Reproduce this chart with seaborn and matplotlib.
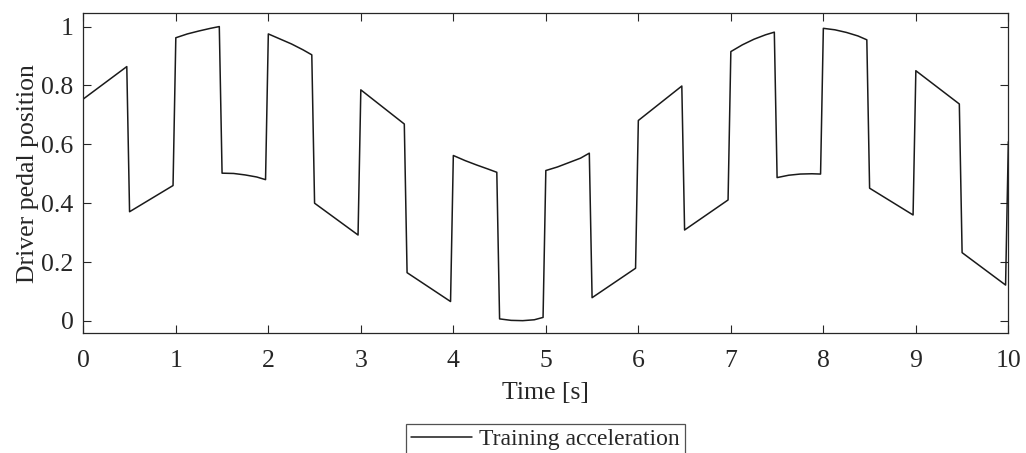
import matplotlib
matplotlib.use("Agg")
import matplotlib.pyplot as plt
import seaborn as sns
import pandas as pd

# Pedal position trace, sampled at segment edges (plus extra samples where a segment bends)
time_s = [
    0.00, 0.47, 0.50, 0.97,
    1.00, 1.125, 1.25, 1.375, 1.47,
    1.50, 1.625, 1.75, 1.875, 1.97,
    2.00, 2.125, 2.25, 2.375, 2.47,
    2.50, 2.97, 3.00, 3.47, 3.50, 3.97,
    4.00, 4.125, 4.25, 4.375, 4.47,
    4.50, 4.625, 4.75, 4.875, 4.97,
    5.00, 5.125, 5.25, 5.375, 5.47,
    5.50, 5.97, 6.00, 6.47, 6.50, 6.97,
    7.00, 7.125, 7.25, 7.375, 7.47,
    7.50, 7.625, 7.75, 7.875, 7.97,
    8.00, 8.125, 8.25, 8.375, 8.47,
    8.50, 8.97, 9.00, 9.47, 9.50, 9.97, 10.00,
]
pedal_position = [
    0.754, 0.864, 0.371, 0.460,
    0.962, 0.975, 0.985, 0.994, 1.000,
    0.502, 0.501, 0.496, 0.489, 0.480,
    0.975, 0.958, 0.941, 0.921, 0.904,
    0.400, 0.292, 0.785, 0.669, 0.164, 0.066,
    0.562, 0.545, 0.530, 0.516, 0.505,
    0.007, 0.002, 0.001, 0.004, 0.012,
    0.511, 0.523, 0.538, 0.553, 0.570,
    0.079, 0.179, 0.681, 0.798, 0.309, 0.411,
    0.915, 0.938, 0.957, 0.972, 0.981,
    0.487, 0.495, 0.499, 0.500, 0.499,
    0.994, 0.989, 0.980, 0.968, 0.955,
    0.451, 0.360, 0.850, 0.737, 0.232, 0.122, 0.609,
]
x_ticks = list(range(0, 11))
y_ticks = [0, 0.2, 0.4, 0.6, 0.8, 1.0]
y_tick_labels = ["0", "0.2", "0.4", "0.6", "0.8", "1"]
series_name = "Training acceleration"

sns.set_theme(style="white")
plt.rcParams["font.family"] = ["Liberation Serif", "DejaVu Serif"]

df = pd.DataFrame({"Time": time_s, "Pedal": pedal_position})

fig = plt.figure(figsize=(10.26, 4.53), dpi=100)
ax = fig.add_axes([0.0812, 0.2642, 0.9016, 0.7064])

sns.lineplot(data=df, x="Time", y="Pedal", ax=ax, sort=False, estimator=None,
             color="#1a1a1a", linewidth=1.1, label=series_name, legend=False)

ax.set_xlim(0, 10)
ax.set_ylim(-0.042, 1.045)
ax.set_xticks(x_ticks)
ax.set_xticklabels([str(t) for t in x_ticks])
ax.set_yticks(y_ticks)
ax.set_yticklabels(y_tick_labels)

ax.tick_params(axis="both", which="both", direction="in", length=6, width=0.8,
               colors="#262626", labelcolor="#262626", labelsize=18.5,
               top=True, right=True, bottom=True, left=True)
ax.tick_params(axis="x", pad=12)
ax.tick_params(axis="y", pad=7)
for side in ["top", "bottom", "left", "right"]:
    ax.spines[side].set_visible(True)
    ax.spines[side].set_color("#262626")
    ax.spines[side].set_linewidth(0.9)

ax.set_xlabel("Time [s]", fontsize=18.5, color="#262626", labelpad=7)
ax.set_ylabel("Driver pedal position", fontsize=18.5, color="#262626", labelpad=2)

handles, labels = ax.get_legend_handles_labels()
leg = fig.legend(handles, labels, loc="upper center", bbox_to_anchor=(0.5315, 0.064),
                 bbox_transform=fig.transFigure, frameon=True, fancybox=False,
                 fontsize=17, handlelength=2.6, handletextpad=0.3,
                 borderpad=0.2, borderaxespad=0.0)
leg.get_frame().set_edgecolor("#262626")
leg.get_frame().set_linewidth(0.9)
for t in leg.get_texts():
    t.set_color("#262626")

fig.savefig("out.png", dpi=100, facecolor="white")
